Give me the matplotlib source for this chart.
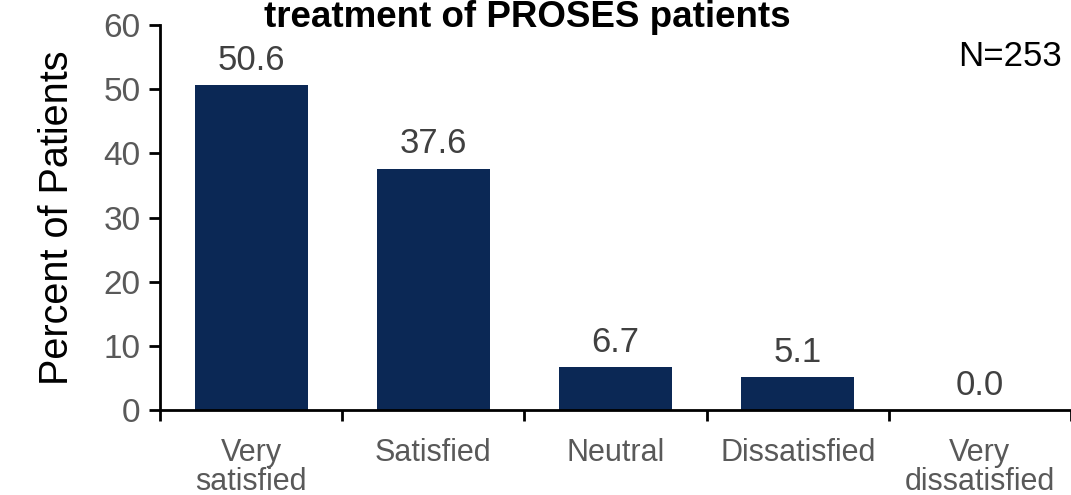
import matplotlib.pyplot as plt
import numpy as np

categories = ['Very\nsatisfied', 'Satisfied', 'Neutral', 'Dissatisfied', 'Very\ndissatisfied']
percent = [50.6, 37.6, 6.7, 5.1, 0.0]
y_ticks = [0, 10, 20, 30, 40, 50, 60]

plt.rcParams['font.family'] = ['Liberation Sans', 'DejaVu Sans']

fig = plt.figure(figsize=(10.71, 4.95), dpi=100)
ax = fig.add_axes([0.1494, 0.1717, 0.8506, 0.7778])

x = np.arange(len(categories))
ax.bar(x, percent, width=0.62, color='#0B2855')

for xi, v in zip(x, percent):
    ax.text(xi, v + 1.3, f'{v:.1f}', ha='center', va='bottom', fontsize=25, color='#404040')

ax.set_xlim(-0.5, len(categories) - 0.5)
ax.set_ylim(0, 60)
ax.set_yticks(y_ticks)
ax.set_yticklabels([str(t) for t in y_ticks], fontsize=24, color='#595959')
ax.tick_params(axis='y', direction='out', length=8, width=2, pad=6)

# category labels centred, ticks on category boundaries
ax.set_xticks(x)
ax.set_xticklabels(categories, fontsize=22, color='#595959', linespacing=0.95)
ax.tick_params(axis='x', which='major', length=0, pad=20)
ax.set_xticks(np.arange(-0.5, len(categories)), minor=True)
ax.tick_params(axis='x', which='minor', direction='out', length=8, width=2)

for side in ['top', 'right']:
    ax.spines[side].set_visible(False)
for side in ['left', 'bottom']:
    ax.spines[side].set_linewidth(2)

ax.set_ylabel('Percent of Patients', fontsize=28.5, color='black', labelpad=20)

ax.text(0.990, 0.917, 'N=253', transform=ax.transAxes, ha='right', va='center',
        fontsize=25, color='black')

fig.text(0.492, 1 - 27 / 495, 'treatment of PROSES patients', ha='center', va='baseline',
         fontsize=26.5, fontweight='bold', color='black')

fig.savefig('out.png', dpi=100)
